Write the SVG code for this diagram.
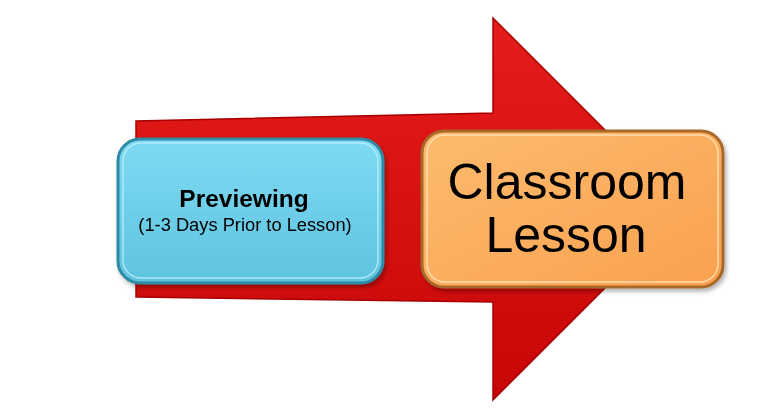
<svg xmlns="http://www.w3.org/2000/svg" width="768" height="420" viewBox="0 0 768 420">
<style>
.t{font-family:"Liberation Sans",Arial,sans-serif;fill:#000;text-anchor:middle}
</style>
<defs>
<linearGradient id="red" x1="0" y1="0" x2="0" y2="1">
<stop offset="0" stop-color="#e61c1c"/>
<stop offset="1" stop-color="#c70606"/>
</linearGradient>
<linearGradient id="blue" x1="0" y1="0" x2="0" y2="1">
<stop offset="0" stop-color="#7edaf3"/>
<stop offset="1" stop-color="#5fc3df"/>
</linearGradient>
<linearGradient id="orange" x1="0" y1="0" x2="1" y2="1">
<stop offset="0" stop-color="#fdbb6e"/>
<stop offset="1" stop-color="#f9a14f"/>
</linearGradient>
<filter id="sh" x="-10%" y="-10%" width="130%" height="130%">
<feDropShadow dx="2" dy="3" stdDeviation="2" flood-color="#000" flood-opacity="0.3"/>
</filter>
</defs>
<g id="arrow">
<polygon points="136,121 493,113 493,18 684,209 493,400 493,302 136,297" fill="url(#red)" stroke="#a80000" stroke-width="1.5" stroke-linejoin="miter"/>
</g>
<g id="previewing" filter="url(#sh)">
<rect x="118" y="139" width="265" height="144" rx="22" fill="url(#blue)" stroke="#2d8ba3" stroke-width="3"/>
<rect x="123" y="143" width="255" height="135" rx="18" fill="none" stroke="#bff0fb" stroke-width="1.5" opacity="0.8"/>
<text class="t" x="244" y="207" font-size="24.5" font-weight="bold">Previewing</text>
<text class="t" x="245" y="231" font-size="18.3">(1-3 Days Prior to Lesson)</text>
</g>
<g id="classroom-lesson" filter="url(#sh)">
<rect x="422" y="131" width="301" height="156" rx="22" fill="url(#orange)" stroke="#a8682a" stroke-width="3"/>
<rect x="427" y="135" width="291" height="147" rx="18" fill="none" stroke="#ffe1b8" stroke-width="1.5" opacity="0.9"/>
<text class="t" x="567" y="199" font-size="50">Classroom</text>
<text class="t" x="566" y="252" font-size="50">Lesson</text>
</g>
<g id="connectors"/>
</svg>
